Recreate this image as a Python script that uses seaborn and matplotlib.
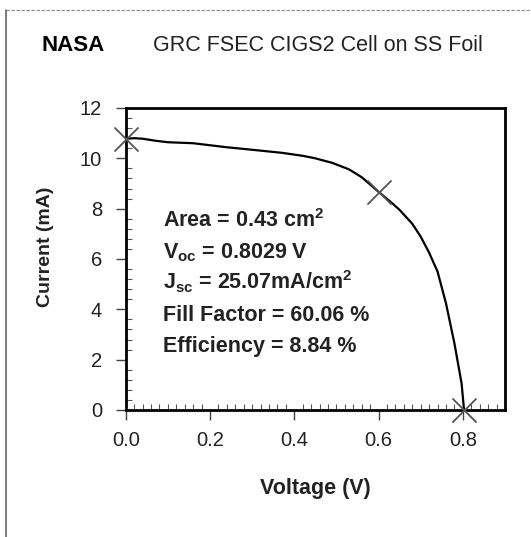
import matplotlib
matplotlib.use("Agg")
import matplotlib.pyplot as plt
from matplotlib.lines import Line2D
from matplotlib.ticker import MultipleLocator
import seaborn as sns
import pandas as pd

title = "GRC FSEC CIGS2 Cell on SS Foil"
logo = "NASA"
x_label = "Voltage (V)"
y_label = "Current (mA)"

voltage = [0.0, 0.02, 0.04, 0.07, 0.10, 0.16, 0.24, 0.30, 0.37, 0.42, 0.45,
           0.49, 0.53, 0.56, 0.60, 0.63, 0.65, 0.68, 0.70, 0.72, 0.74, 0.76,
           0.78, 0.797, 0.8029]
current = [10.78, 10.80, 10.78, 10.70, 10.64, 10.60, 10.44, 10.34, 10.22,
           10.10, 10.0, 9.82, 9.56, 9.25, 8.67, 8.25, 7.95, 7.40, 6.89, 6.25,
           5.50, 4.24, 2.65, 1.06, 0.0]

marker_v = [0.0, 0.60, 0.8029]
marker_i = [10.78, 8.67, 0.0]

info_lines = [
    "Area = 0.43 cm$^{\\mathregular{2}}$",
    "V$_{\\mathregular{oc}}$ = 0.8029 V",
    "J$_{\\mathregular{sc}}$ = 25.07mA/cm$^{\\mathregular{2}}$",
    "Fill Factor = 60.06 %",
    "Efficiency = 8.84 %",
]

x_ticks = [0.0, 0.2, 0.4, 0.6, 0.8]
y_ticks = [0, 2, 4, 6, 8, 10, 12]

sns.set_style("white")
plt.rcParams["font.family"] = ["Liberation Sans", "DejaVu Sans"]

fig = plt.figure(figsize=(5.31, 5.37), dpi=100)
ax = fig.add_axes([0.2367, 0.2365, 0.951 - 0.2367, 0.7989 - 0.2365])

df = pd.DataFrame({"v": voltage, "i": current})
sns.lineplot(data=df, x="v", y="i", ax=ax, color="black", linewidth=1.6,
             sort=False, estimator=None)
mk = pd.DataFrame({"v": marker_v, "i": marker_i})
sns.scatterplot(data=mk, x="v", y="i", ax=ax, marker="x", s=300,
                color="#555555", linewidth=1.3, zorder=5, clip_on=False)

ax.set_xlim(0, 0.9)
ax.set_ylim(0, 12)
ax.set_xticks(x_ticks)
ax.set_xticklabels([f"{t:.1f}" for t in x_ticks])
ax.set_yticks(y_ticks)
ax.xaxis.set_minor_locator(MultipleLocator(0.02))
ax.yaxis.set_minor_locator(MultipleLocator(0.4))
ax.tick_params(which="major", direction="out", length=7, width=1,
               color="#444444", labelsize=14.5, labelcolor="#222222",
               bottom=True, left=True)
ax.tick_params(which="minor", direction="in", length=4, width=0.8,
               color="#555555", bottom=True, left=True)
ax.tick_params(axis="x", which="major", pad=8)
ax.tick_params(axis="y", which="major", pad=10)
for s in ax.spines.values():
    s.set_visible(True)
    s.set_color("black")
    s.set_linewidth(2)

ax.set_xlabel(x_label, fontsize=15.5, fontweight="bold", color="#222222", labelpad=20)
ax.set_ylabel(y_label, fontsize=14, fontweight="bold", color="#222222")
ax.yaxis.set_label_coords(-0.19, 0.54)

for k, line in enumerate(info_lines):
    ax.text(0.088, 7.27 - k * 1.24, line, fontsize=15.5, fontweight="bold",
            color="#222222", va="baseline", ha="left")

fig.text(0.079, 0.916, logo, fontsize=16, fontweight="heavy", color="black",
         va="center", ha="left")
fig.text(0.598, 0.916, title, fontsize=15.5, color="#222222",
         va="center", ha="center")

fig.add_artist(Line2D([0.0105, 0.0105], [0.0, 0.9814], transform=fig.transFigure,
                      color="#666666", linewidth=1.2))
fig.add_artist(Line2D([0.0105, 1.0], [0.9814, 0.9814], transform=fig.transFigure,
                      color="#888888", linewidth=0.8, linestyle=(0, (3, 1.5))))

if ax.get_legend() is not None:
    ax.get_legend().remove()
fig.savefig("out.png", dpi=100)
